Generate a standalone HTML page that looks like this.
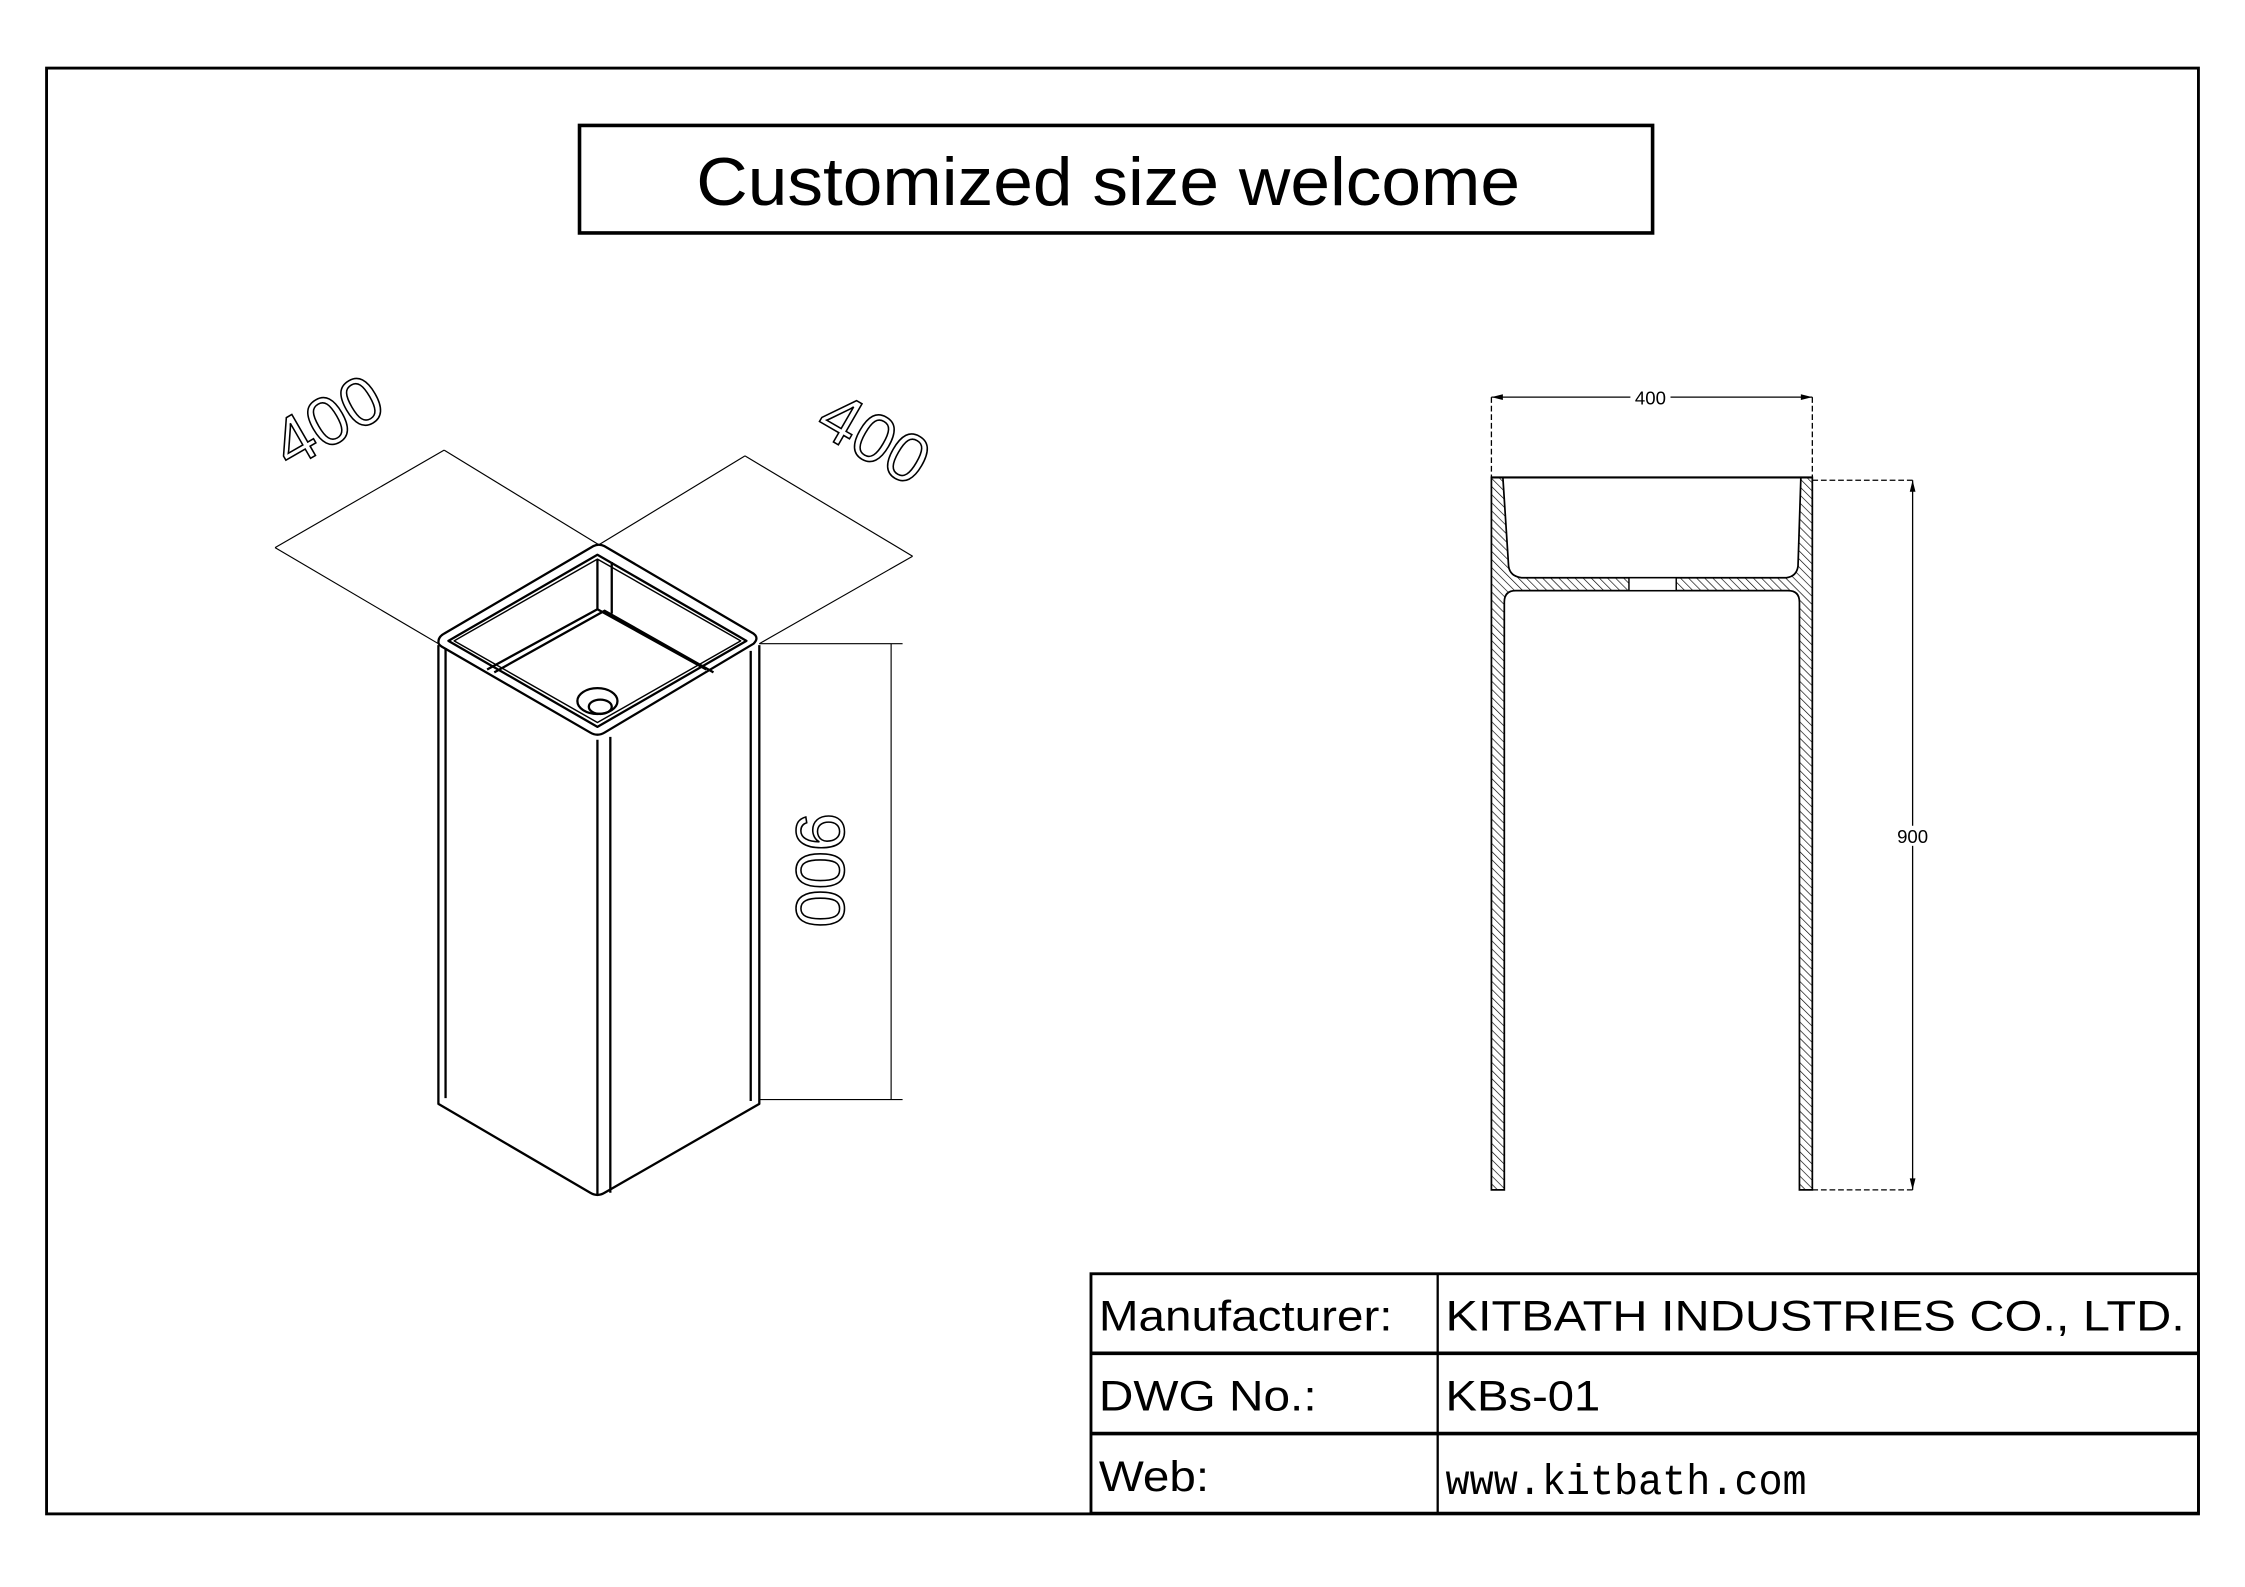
<!DOCTYPE html>
<html><head><meta charset="utf-8"><style>
html,body{margin:0;padding:0;background:#fff}
svg{display:block}
</style></head><body>
<svg width="2245" height="1587" viewBox="0 0 1567 1107" preserveAspectRatio="none" xmlns="http://www.w3.org/2000/svg">
<defs>
<pattern id="h" width="4" height="4" patternUnits="userSpaceOnUse" patternTransform="rotate(-45)">
<rect width="4" height="4" fill="#fff"/><line x1="0" y1="0" x2="0" y2="4" stroke="#000" stroke-width="0.9"/>
</pattern>
</defs>
<rect x="0" y="0" width="1567" height="1107" fill="#fff"/>
<rect x="32.5" y="47.5" width="1502" height="1008.5" fill="none" stroke="#000" stroke-width="2"/>
<rect x="404.5" y="87.5" width="749" height="75" fill="none" stroke="#000" stroke-width="2.5"/>
<text x="486" y="143" font-family="Liberation Sans, sans-serif" font-size="47" textLength="575" lengthAdjust="spacingAndGlyphs">Customized size welcome</text>

<!-- isometric -->
<g fill="none" stroke="#000" stroke-width="1.6" stroke-linejoin="round">
<path d="M306,450 L306,770 L412,832 Q417,835 422,832 L530,770 L530,450"/>
<path d="M311,452 L311,766"/>
<path d="M417,516 L417,834 M426,514 L426,832 M524,454 L524,768"/>
<path d="M306,448 Q306,444 310,442 L414,381 Q418,379 422,381 L526,442 Q530,445 526,449 L422,511 Q417,514 412,511 L310,452 Q306,450 306,448 Z"/>
<path d="M313,447 L417,387 L521,447 L417,507 Z"/>
<path d="M317,447 L417,390 L517,447 L417,504 Z" stroke-width="1"/>
<path d="M417,390 L417,425 M427,392 L427,428"/>
<path d="M340,467 L417,425 L493,467 M345,469 L422,426 L498,469"/>
<ellipse cx="417" cy="489" rx="14" ry="9"/>
<ellipse cx="419" cy="493" rx="8" ry="5"/>
</g>
<g stroke="#000" stroke-width="0.8" fill="none">
<line x1="306" y1="449" x2="192" y2="382"/>
<line x1="418" y1="380" x2="310" y2="314"/>
<line x1="192" y1="382" x2="310" y2="314"/>
<line x1="418" y1="380" x2="520" y2="318"/>
<line x1="530" y1="449" x2="637" y2="388"/>
<line x1="520" y1="318" x2="637" y2="388"/>
<line x1="530" y1="449" x2="630" y2="449"/>
<line x1="530" y1="767" x2="630" y2="767"/>
<line x1="622" y1="449" x2="622" y2="767"/>
</g>
<g font-family="Liberation Sans, sans-serif" font-size="48" fill="none" stroke="#000" stroke-width="1.1">
<text transform="translate(237,308) rotate(-30)" text-anchor="middle">400</text>
<text transform="translate(602,320) rotate(30)" text-anchor="middle">400</text>
<text transform="translate(556,607) rotate(90)" text-anchor="middle">900</text>
</g>

<!-- section view -->
<g stroke="#000" stroke-width="1.2">
<path d="M1041,333 L1049,333 L1053,395 Q1054,402 1062,403 L1247,403 Q1254,402 1255,395 L1257,333 L1265,333 L1265,830 L1256,830 L1256,420 Q1256,412 1248,412 L1058,412 Q1050,412 1050,420 L1050,830 L1041,830 Z" fill="url(#h)"/>
<rect x="1137" y="403" width="33" height="9" fill="#fff" stroke-width="1"/>
<line x1="1041" y1="333" x2="1265" y2="333" stroke-width="1.5"/>
</g>
<g stroke="#000" stroke-width="0.9" fill="none">
<line x1="1041" y1="277" x2="1265" y2="277"/>
<line x1="1041" y1="277" x2="1041" y2="333" stroke-dasharray="4,2"/>
<line x1="1265" y1="277" x2="1265" y2="333" stroke-dasharray="4,2"/>
<line x1="1265" y1="335" x2="1336" y2="335" stroke-dasharray="4,2"/>
<line x1="1265" y1="830" x2="1336" y2="830" stroke-dasharray="4,2"/>
<line x1="1335" y1="335" x2="1335" y2="830"/>
</g>
<path d="M1041,277 l8,-2 v4 z M1265,277 l-8,-2 v4 z M1335,335 l-2,8 h4 z M1335,830 l-2,-8 h4 z" fill="#000"/>
<rect x="1138" y="270" width="28" height="14" fill="#fff"/>
<text x="1152" y="282" font-family="Liberation Sans, sans-serif" font-size="13" text-anchor="middle">400</text>
<rect x="1322" y="576" width="26" height="14" fill="#fff"/>
<text x="1335" y="588" font-family="Liberation Sans, sans-serif" font-size="13" text-anchor="middle">900</text>

<!-- title block -->
<g stroke="#000" fill="none">
<rect x="761.5" y="888.5" width="773" height="167" stroke-width="2"/>
<line x1="761" y1="944" x2="1535" y2="944" stroke-width="2.5"/>
<line x1="761" y1="1000" x2="1535" y2="1000" stroke-width="2.5"/>
<line x1="1003.5" y1="888" x2="1003.5" y2="1056" stroke-width="1.6"/>
</g>
<g font-family="Liberation Sans, sans-serif" font-size="30">
<text x="767" y="928" textLength="205" lengthAdjust="spacingAndGlyphs">Manufacturer:</text>
<text x="1009" y="928" textLength="516" lengthAdjust="spacingAndGlyphs">KITBATH INDUSTRIES CO., LTD.</text>
<text x="767" y="984" textLength="152" lengthAdjust="spacingAndGlyphs">DWG No.:</text>
<text x="1009" y="984" textLength="108" lengthAdjust="spacingAndGlyphs">KBs-01</text>
<text x="767" y="1040" textLength="77" lengthAdjust="spacingAndGlyphs">Web:</text>
</g>
<text x="1009" y="1042" font-family="Liberation Mono, monospace" font-size="30" textLength="252" lengthAdjust="spacingAndGlyphs">www.kitbath.com</text>
</svg>
</body></html>
